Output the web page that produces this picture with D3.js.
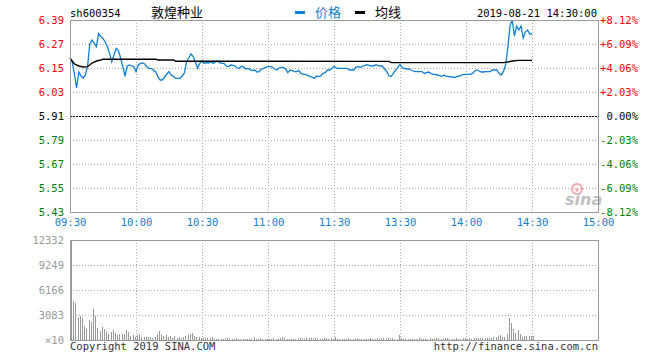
<!DOCTYPE html>
<html><head><meta charset="utf-8">
<script src="https://cdn.jsdelivr.net/npm/d3@7"></script>
<style>body{margin:0;background:#fff}</style>
</head><body><svg id="c" width="660" height="360"></svg>
<script>
const symbol = "sh600354";
const title = "敦煌种业";
const stamp = "2019-08-21 14:30:00";
const legendNames = ["价格", "均线"];
const prevClose = 5.91;
const priceTicks = [6.39, 6.27, 6.15, 6.03, 5.91, 5.79, 5.67, 5.55, 5.43];
const pctTicks = ["+8.12%", "+6.09%", "+4.06%", "+2.03%", "0.00%", "-2.03%", "-4.06%", "-6.09%", "-8.12%"];
const timeTicks = ["09:30", "10:00", "10:30", "11:00", "11:30", "13:30", "14:00", "14:30", "15:00"];
const volTicks = [12332, 9249, 6166, 3083, 0];
const volTickLabels = ["12332", "9249", "6166", "3083", "×10"];

// per-minute prices from 09:30 (11:30 and 13:00 share one slot)
const prices = [
6.20,6.18,6.12,6.05,6.13,6.11,6.10,6.115,6.16,6.27,
6.29,6.273,6.257,6.323,6.307,6.298,6.28,6.257,6.223,6.18,
6.215,6.248,6.237,6.20,6.157,6.11,6.16,6.165,6.16,6.157,
6.132,6.165,6.173,6.175,6.17,6.155,6.148,6.147,6.14,6.13,
6.105,6.09,6.09,6.105,6.12,6.132,6.115,6.107,6.098,6.098,
6.098,6.11,6.125,6.182,6.20,6.22,6.207,6.18,6.15,6.173,
6.185,6.173,6.177,6.175,6.18,6.173,6.18,6.185,6.177,6.173,
6.173,6.16,6.157,6.165,6.163,6.16,6.15,6.148,6.16,6.153,
6.145,6.148,6.14,6.137,6.14,6.13,6.132,6.145,6.148,6.153,
6.157,6.157,6.155,6.145,6.14,6.15,6.153,6.153,6.145,6.127,
6.14,6.137,6.132,6.132,6.137,6.123,6.118,6.118,6.113,6.108,
6.105,6.098,6.11,6.107,6.11,6.123,6.127,6.14,6.14,6.148,
6.157,6.15,6.148,6.148,6.148,6.148,6.148,6.14,6.14,6.14,
6.155,6.157,6.153,6.16,6.163,6.167,6.163,6.16,6.16,6.167,
6.163,6.16,6.16,6.145,6.132,6.11,6.108,6.123,6.14,6.152,
6.168,6.152,6.148,6.145,6.145,6.14,6.135,6.132,6.132,6.132,
6.132,6.123,6.127,6.13,6.123,6.118,6.118,6.115,6.112,6.108,
6.115,6.108,6.108,6.105,6.105,6.102,6.108,6.11,6.115,6.118,
6.118,6.118,6.118,6.123,6.135,6.14,6.135,6.13,6.13,6.132,
6.132,6.132,6.14,6.14,6.14,6.123,6.115,6.132,6.165,6.25,
6.36,6.39,6.31,6.36,6.34,6.36,6.30,6.33,6.34,6.32,
6.32
];
const volumes = [
12332,4810,4600,2870,3000,2750,1730,1320,2470,2260,
3820,3000,1440,1150,1640,1360,1110,740,950,1230,
900,650,780,780,700,1230,990,490,620,410,
580,700,370,370,370,410,330,210,410,700,
1110,740,490,620,410,530,210,490,280,370,
280,410,490,620,780,860,490,410,370,210,
250,210,250,210,370,160,120,150,130,150,
250,250,250,140,120,200,180,130,120,150,
130,170,130,370,150,180,260,160,180,140,
160,150,280,170,150,200,330,250,180,150,
170,150,180,250,230,250,180,250,250,200,
250,300,200,180,150,200,250,170,200,180,
410,150,130,120,150,140,200,150,170,130,
200,150,160,180,150,130,200,150,170,200,
180,250,280,280,280,250,200,150,150,620,
200,150,130,150,160,140,130,150,200,160,
180,150,140,200,160,150,200,280,150,180,
200,280,160,150,130,200,150,180,200,250,
160,200,180,250,200,250,300,200,250,280,
200,250,310,410,490,580,410,330,740,2750,
2140,1320,900,1270,740,410,530,530,530,530,
530
];
const avgTimes = ["09:30","09:31","09:32","09:34","09:36","09:38","09:39","09:40","09:42","09:44","09:45","10:09","10:10","10:17","10:18","13:25","13:26","14:17","14:19","14:21","14:24","14:30"];
const avgValues = [6.20,6.185,6.17,6.16,6.155,6.157,6.165,6.175,6.185,6.19,6.194,6.194,6.19,6.19,6.184,6.183,6.177,6.177,6.18,6.185,6.188,6.188];

function toIdx(t){const [h,m]=t.split(":").map(Number);const mm=h*60+m;return mm<=690?mm-570:mm-780+120;}

const svg = d3.select("#c");
const L=70,R=598,T=20,B=212,VT=240,VB=340;
const mono = "'DejaVu Sans Mono', monospace";
const cjk = "'Noto Sans CJK SC', sans-serif";
const blue = "#1080d0";

const x = d3.scaleLinear().domain([0,240]).range([L,R]);
const y = d3.scaleLinear().domain([5.43,6.39]).range([B,T]);
const yv = d3.scaleLinear().domain([0,12332]).range([VB,VT]);

const colorOf = v => Math.abs(v-prevClose)<1e-9 ? "#000" : (v>prevClose ? "#f00" : "#008000");

// grid
const grid = svg.append("g").attr("shape-rendering","crispEdges");
priceTicks.forEach(v=>{
  const yy=Math.round(y(v))+0.5;
  grid.append("line").attr("x1",L).attr("x2",R).attr("y1",yy).attr("y2",yy)
    .attr("stroke", v===prevClose?"#000":"#aaa").attr("stroke-dasharray", v===prevClose?"2,1":"1,2");
});
volTicks.slice(1,4).forEach(v=>{
  const yy=Math.round(yv(v))+0.5;
  grid.append("line").attr("x1",L).attr("x2",R).attr("y1",yy).attr("y2",yy).attr("stroke","#aaa").attr("stroke-dasharray","1,2");
});
timeTicks.slice(1,8).forEach(t=>{
  const xx=Math.round(x(toIdx(t)))+0.5;
  grid.append("line").attr("x1",xx).attr("x2",xx).attr("y1",T).attr("y2",B).attr("stroke","#aaa").attr("stroke-dasharray","1,2");
  grid.append("line").attr("x1",xx).attr("x2",xx).attr("y1",VT).attr("y2",VB).attr("stroke","#aaa").attr("stroke-dasharray","1,2");
});

// watermark
svg.append("circle").attr("cx",577).attr("cy",189).attr("r",5).attr("fill","none").attr("stroke","#f3a7ae").attr("stroke-width",2);
svg.append("circle").attr("cx",577).attr("cy",190).attr("r",1.8).attr("fill","#f3a7ae");
svg.append("text").attr("x",565).attr("y",205).text("sina").attr("font-family","'DejaVu Sans', sans-serif")
  .attr("font-size",16).attr("font-weight","bold").attr("font-style","italic").attr("fill","#c0c0c0");

// volume bars
svg.append("g").attr("shape-rendering","crispEdges").selectAll("rect").data(volumes).join("rect")
  .attr("x",(d,i)=>Math.round(x(i))+1).attr("width",1)
  .attr("y",d=>yv(d)).attr("height",d=>VB-yv(d)).attr("fill","#999");

// lines
const pts = prices.map((p,i)=>[i,p]);
svg.append("path").datum(pts).attr("fill","none").attr("stroke",blue).attr("stroke-width",1.3)
  .attr("d", d3.line().x(d=>x(d[0])).y(d=>y(d[1])));
const apts = avgTimes.map((t,i)=>[toIdx(t),avgValues[i]]);
svg.append("path").datum(apts).attr("fill","none").attr("stroke","#000").attr("stroke-width",1.4)
  .attr("d", d3.line().x(d=>x(d[0])).y(d=>y(d[1])));

// frames
svg.append("rect").attr("x",L+0.5).attr("y",T+0.5).attr("width",R-L).attr("height",B-T).attr("fill","none").attr("stroke","#999");
svg.append("rect").attr("x",L+0.5).attr("y",VT+0.5).attr("width",R-L).attr("height",VB-VT).attr("fill","none").attr("stroke","#999");

// axes
function styleAxis(g){g.select(".domain").remove();g.selectAll("text").attr("font-family",mono).attr("font-size",10.5);}
svg.append("g").attr("transform",`translate(${L},0)`)
  .call(d3.axisLeft(y).tickValues(priceTicks).tickFormat(d3.format(".2f")).tickSize(0).tickPadding(6))
  .call(styleAxis).selectAll("text").attr("fill",d=>colorOf(d));
svg.append("g").attr("transform",`translate(${R},0)`)
  .call(d3.axisRight(y).tickValues(priceTicks).tickFormat((d,i)=>pctTicks[i]).tickSize(0).tickPadding(40))
  .call(styleAxis).selectAll("text").attr("text-anchor","end").attr("fill",d=>colorOf(d));
svg.append("g").attr("transform",`translate(0,${B})`)
  .call(d3.axisBottom(x).tickValues(timeTicks.map(toIdx)).tickFormat((d,i)=>timeTicks[i]).tickSize(0).tickPadding(7))
  .call(styleAxis).selectAll("text").attr("fill",blue);
svg.append("g").attr("transform",`translate(${L},0)`)
  .call(d3.axisLeft(yv).tickValues(volTicks).tickFormat((d,i)=>volTickLabels[i]).tickSize(0).tickPadding(6))
  .call(styleAxis).selectAll("text").attr("fill","#999");

// header
svg.append("text").attr("x",L).attr("y",17).text(symbol).attr("font-family",mono).attr("font-size",10.5).attr("fill","#000");
svg.append("text").attr("x",177).attr("y",17).attr("text-anchor","middle").text(title).attr("font-family",cjk).attr("font-size",13).attr("fill","#000");
svg.append("rect").attr("x",295).attr("y",11).attr("width",10).attr("height",3).attr("fill",blue);
svg.append("text").attr("x",315).attr("y",17).text(legendNames[0]).attr("font-family",cjk).attr("font-size",13).attr("fill",blue);
svg.append("rect").attr("x",355).attr("y",11).attr("width",10).attr("height",3).attr("fill","#000");
svg.append("text").attr("x",375).attr("y",17).text(legendNames[1]).attr("font-family",cjk).attr("font-size",13).attr("fill","#000");
svg.append("text").attr("x",597).attr("y",17).attr("text-anchor","end").text(stamp).attr("font-family",mono).attr("font-size",10.5).attr("fill","#000");

// footer
svg.append("text").attr("x",L).attr("y",350).text("Copyright 2019 SINA.COM").attr("font-family",mono).attr("font-size",10.5).attr("fill","#333");
svg.append("text").attr("x",R).attr("y",350).attr("text-anchor","end").text("http://finance.sina.com.cn").attr("font-family",mono).attr("font-size",10.5).attr("fill","#333");
</script></body></html>
